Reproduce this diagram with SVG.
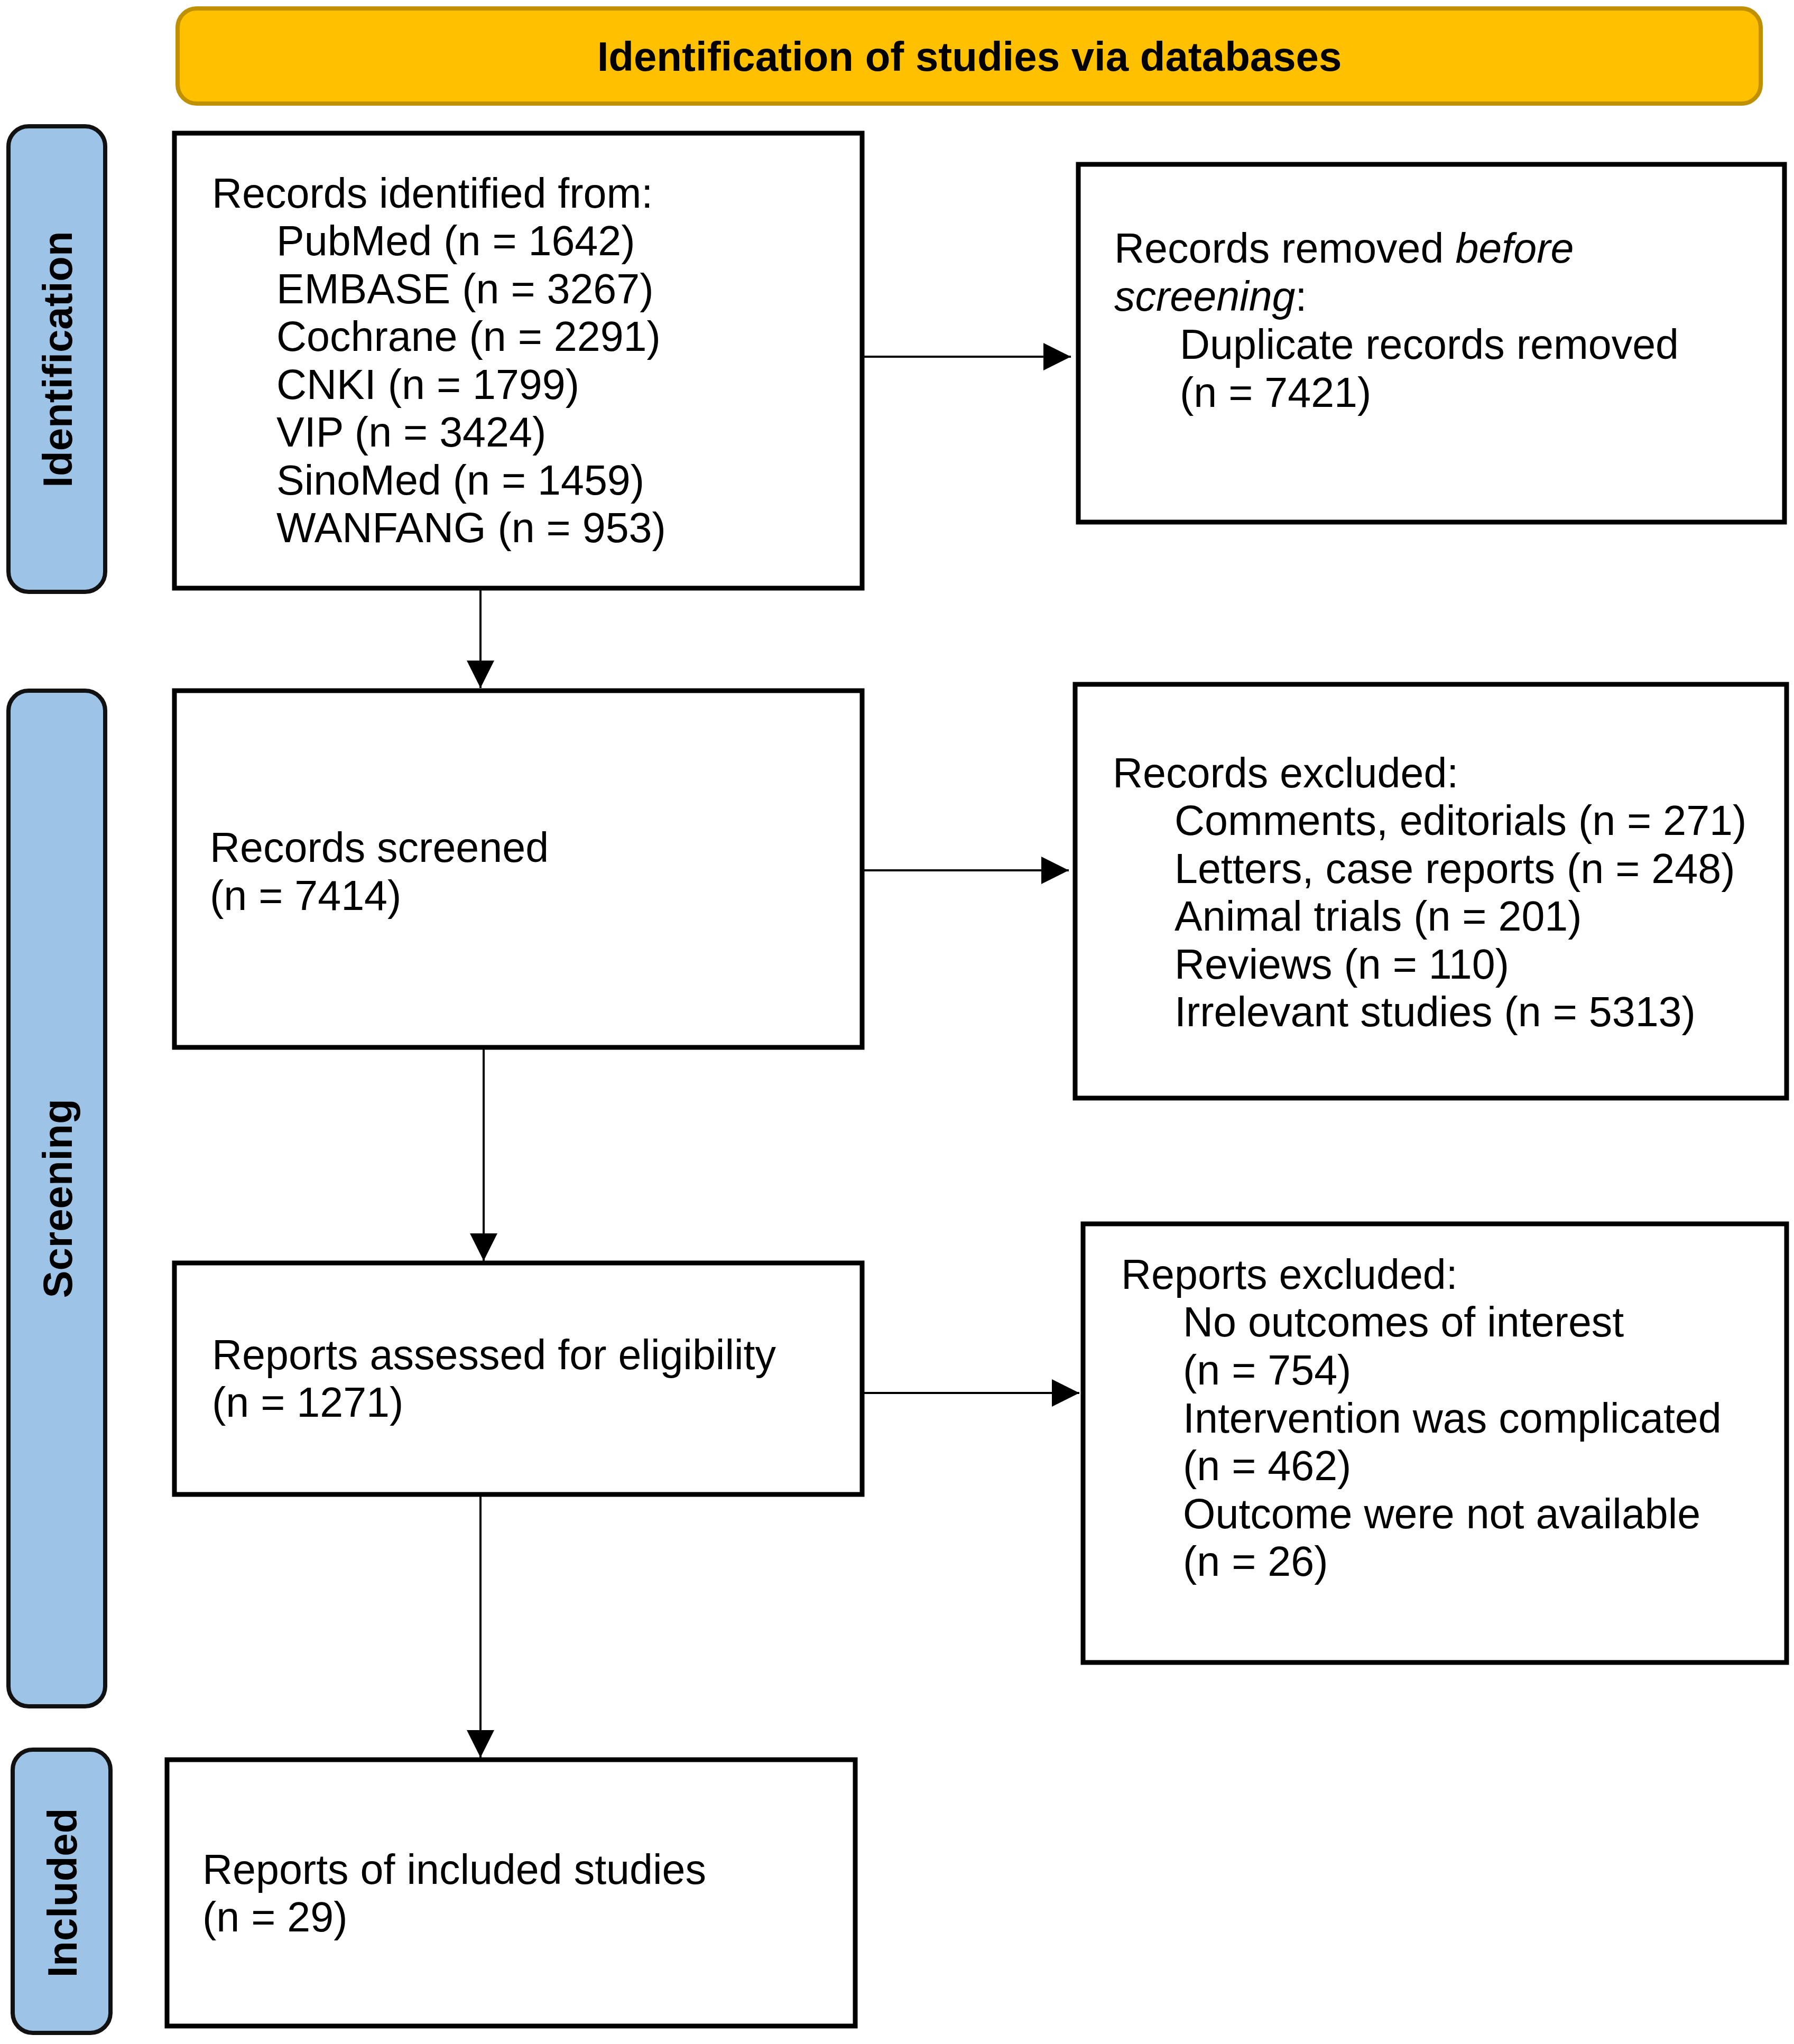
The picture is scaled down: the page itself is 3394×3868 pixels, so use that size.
<svg xmlns="http://www.w3.org/2000/svg" width="3394" height="3868" viewBox="0 0 3394 3868">
<style>
.box{fill:#fff;stroke:#000;stroke-width:9}
.side{fill:#9DC3E6;stroke:#111;stroke-width:8}
.banner{fill:#FFC000;stroke:#BF9000;stroke-width:8}
.t{font-family:"Liberation Sans",Arial,sans-serif;font-size:79px;fill:#000}
.b{font-family:"Liberation Sans",Arial,sans-serif;font-size:78px;font-weight:bold;fill:#000}
.conn{stroke:#000;stroke-width:4;fill:none}
</style>
<defs>
<marker id="arr" markerUnits="userSpaceOnUse" markerWidth="52" markerHeight="52" refX="52" refY="26" orient="auto">
<path d="M0,0 L52,26 L0,52 z" fill="#000"/>
</marker>
</defs>
<rect width="3394" height="3868" fill="#fff"/>
<g id="banner">
<rect class="banner" x="336" y="16" width="2995" height="180" rx="36"/>
<text class="b" x="1834" y="134" text-anchor="middle">Identification of studies via databases</text>
</g>
<g id="label-identification">
<rect class="side" x="16" y="239" width="183" height="881" rx="38"/>
<text class="b" transform="translate(136,680) rotate(-90)" text-anchor="middle">Identification</text>
</g>
<g id="label-screening">
<rect class="side" x="16" y="1307" width="183" height="1922" rx="38"/>
<text class="b" transform="translate(136,2268) rotate(-90)" text-anchor="middle">Screening</text>
</g>
<g id="label-included">
<rect class="side" x="24" y="3311" width="185" height="536" rx="38"/>
<text class="b" transform="translate(145,3582) rotate(-90)" text-anchor="middle">Included</text>
</g>
<g id="connectors">
<line class="conn" x1="1631" y1="675" x2="2026" y2="675" marker-end="url(#arr)"/>
<line class="conn" x1="1631" y1="1647" x2="2022" y2="1647" marker-end="url(#arr)"/>
<line class="conn" x1="1631" y1="2636" x2="2042" y2="2636" marker-end="url(#arr)"/>
<line class="conn" x1="909" y1="1113" x2="909" y2="1302" marker-end="url(#arr)"/>
<line class="conn" x1="915" y1="1982" x2="915" y2="2386" marker-end="url(#arr)"/>
<line class="conn" x1="909" y1="2828" x2="909" y2="3326" marker-end="url(#arr)"/>
</g>
<g id="records-identified">
<rect class="box" x="330" y="252" width="1301" height="861"/>
<text class="t" x="401" y="393">Records identified from:</text>
<text class="t" x="523" y="483">PubMed (n = 1642)</text>
<text class="t" x="523" y="574">EMBASE (n = 3267)</text>
<text class="t" x="523" y="664">Cochrane (n = 2291)</text>
<text class="t" x="523" y="755">CNKI (n = 1799)</text>
<text class="t" x="523" y="845">VIP (n = 3424)</text>
<text class="t" x="523" y="936">SinoMed (n = 1459)</text>
<text class="t" x="523" y="1026">WANFANG (n = 953)</text>
</g>
<g id="records-removed">
<rect class="box" x="2040" y="311" width="1336" height="677"/>
<text class="t" x="2108" y="497">Records removed <tspan font-style="italic">before</tspan></text>
<text class="t" x="2108" y="588"><tspan font-style="italic">screening</tspan>:</text>
<text class="t" x="2232" y="679">Duplicate records removed</text>
<text class="t" x="2232" y="770">(n = 7421)</text>
</g>
<g id="records-screened">
<rect class="box" x="330" y="1307" width="1301" height="675"/>
<text class="t" x="397" y="1631">Records screened</text>
<text class="t" x="397" y="1722">(n = 7414)</text>
</g>
<g id="records-excluded">
<rect class="box" x="2034" y="1295" width="1346" height="783"/>
<text class="t" x="2105" y="1490">Records excluded:</text>
<text class="t" x="2222" y="1580">Comments, editorials (n = 271)</text>
<text class="t" x="2222" y="1671">Letters, case reports (n = 248)</text>
<text class="t" x="2222" y="1761">Animal trials (n = 201)</text>
<text class="t" x="2222" y="1852">Reviews (n = 110)</text>
<text class="t" x="2222" y="1942">Irrelevant studies (n = 5313)</text>
</g>
<g id="reports-assessed">
<rect class="box" x="330" y="2390" width="1301" height="438"/>
<text class="t" x="401" y="2591">Reports assessed for eligibility</text>
<text class="t" x="401" y="2681">(n = 1271)</text>
</g>
<g id="reports-excluded">
<rect class="box" x="2049" y="2316" width="1331" height="830"/>
<text class="t" x="2121" y="2439">Reports excluded:</text>
<text class="t" x="2238" y="2529">No outcomes of interest</text>
<text class="t" x="2238" y="2620">(n = 754)</text>
<text class="t" x="2238" y="2711">Intervention was complicated</text>
<text class="t" x="2238" y="2801">(n = 462)</text>
<text class="t" x="2238" y="2892">Outcome were not available</text>
<text class="t" x="2238" y="2982">(n = 26)</text>
</g>
<g id="reports-included">
<rect class="box" x="316" y="3330" width="1302" height="504"/>
<text class="t" x="383" y="3565">Reports of included studies</text>
<text class="t" x="383" y="3655">(n = 29)</text>
</g>
</svg>
